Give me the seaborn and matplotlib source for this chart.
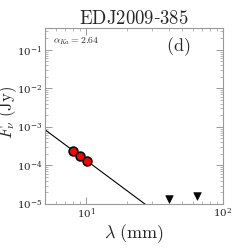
import matplotlib
matplotlib.use("Agg")
import matplotlib.pyplot as plt
import seaborn as sns
import pandas as pd
import numpy as np

# data
det_wavelength = [8.0, 8.93, 10.2]          # mm
det_flux = [2.42e-4, 1.73e-4, 1.31e-4]      # Jy
lim_wavelength = [40.5, 64.4]               # mm
lim_flux = [1.32e-5, 1.64e-5]               # Jy (upper limits)
fit_wavelength = [5.0, 30.0]
fit_flux = [8.4e-4, 7.4e-6]
alpha_text = r"$\alpha_{Ka}=2.64$"
panel = r"$\mathrm{(d)}$"
title = r"$\mathrm{EDJ2009}$-$\mathrm{385}$"

sns.set_style("ticks")
plt.rcParams["mathtext.fontset"] = "cm"
plt.rcParams["font.family"] = ["DejaVu Serif"]
plt.rcParams["axes.formatter.use_mathtext"] = True

fig = plt.figure(figsize=(2.49, 2.49), dpi=100)
ax = fig.add_axes([0.181, 0.181, 0.715, 0.707])

sns.lineplot(x=fit_wavelength, y=fit_flux, ax=ax, color="black", lw=0.8)
sns.scatterplot(x=det_wavelength, y=det_flux, ax=ax, color="red", edgecolor="black",
                linewidth=1.2, s=40, zorder=5)
sns.scatterplot(x=lim_wavelength, y=lim_flux, ax=ax, color="black", marker="v",
                edgecolor="black", s=30, zorder=5)

ax.set_xscale("log")
ax.set_yscale("log")
ax.set_xlim(5, 100)
ax.set_ylim(1e-5, 0.37)

gray = "#999999"
for s in ax.spines.values():
    s.set_color(gray)
    s.set_linewidth(0.8)
    s.set_visible(True)
ax.tick_params(which="both", direction="in", top=True, right=True, color=gray, labelsize=7.5, pad=2)
ax.tick_params(which="major", length=5, width=0.7)
ax.tick_params(which="minor", length=2.5, width=0.5)
ax.yaxis.set_major_locator(matplotlib.ticker.LogLocator(base=10, numticks=10))
ax.yaxis.set_minor_locator(matplotlib.ticker.LogLocator(base=10, subs=np.arange(2, 10), numticks=10))

ax.set_xlabel(r"$\lambda\ (\mathrm{mm})$", fontsize=13, labelpad=1)
ax.set_ylabel(r"$F_\nu\ (\mathrm{Jy})$", fontsize=12)
ax.yaxis.set_label_coords(-0.145, 0.52)
ax.set_title(title, fontsize=13.5, pad=2)

ax.text(0.045, 0.925, alpha_text, transform=ax.transAxes, fontsize=7, ha="left", va="center")
ax.text(0.745, 0.895, panel, transform=ax.transAxes, fontsize=13, ha="center", va="center")

fig.savefig("out.png", dpi=100)
